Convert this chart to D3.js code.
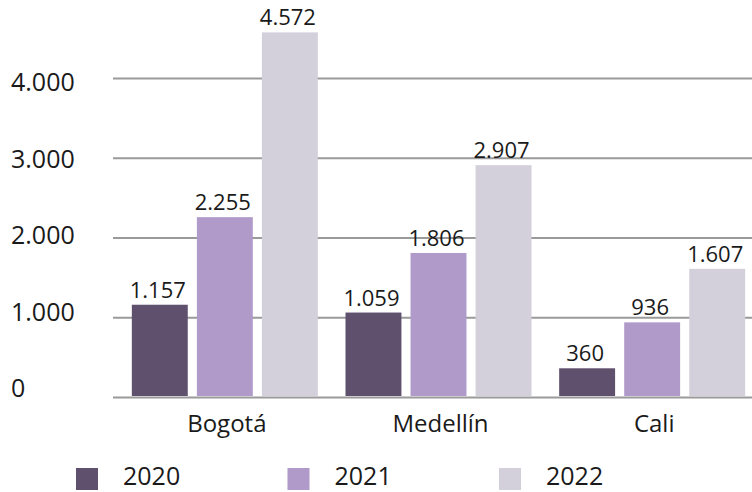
<!DOCTYPE html>
<html>
<head>
<meta charset="utf-8">
<script src="https://cdn.jsdelivr.net/npm/d3@7"></script>
<style>
  body { margin: 0; background: #fff; }
  text { font-family: "Open Sans", Lato, sans-serif; fill: #1a1a1a; }
</style>
</head>
<body>
<script>
// data
var cities = ["Bogotá", "Medellín", "Cali"]
var years = ["2020", "2021", "2022"]
var values2020 = [1157, 1059, 360]
var values2021 = [2255, 1806, 936]
var values2022 = [4572, 2907, 1607]
var yTicks = [0, 1000, 2000, 3000, 4000]
var colors = ["#5f506e", "#b09ac9", "#d3d0dc"]

var series = [values2020, values2021, values2022]

var width = 752, height = 492

var svg = d3.select("body")
    .append("svg")
    .attr("width", width)
    .attr("height", height)

var x0 = d3.scaleBand()
    .domain(cities)
    .range([118, 759])

var x1 = d3.scaleBand()
    .domain(years)
    .range([x0.bandwidth() / 2 - 93, x0.bandwidth() / 2 + 93])
    .paddingInner(0.14)

var y = d3.scaleLinear()
    .domain([0, 4000])
    .range([397, 78])

// tick labels sit on a slightly tighter spacing than the gridlines
var yLabel = d3.scaleLinear()
    .domain([0, 4000])
    .range([388, 82])

var fmt = function (v) {
    return d3.format(",")(v).replace(/,/g, ".")
}

// gridlines
svg.append("g")
    .selectAll("line")
    .data(yTicks)
    .enter()
    .append("line")
    .attr("x1", 113)
    .attr("x2", width)
    .attr("y1", function (d) { return y(d) + 0.5 })
    .attr("y2", function (d) { return y(d) + 0.5 })
    .attr("stroke", "#9a9a9a")
    .attr("stroke-width", 2)

svg.append("g")
    .selectAll("text")
    .data(yTicks)
    .enter()
    .append("text")
    .attr("x", 11)
    .attr("y", function (d) { return yLabel(d) })
    .attr("dy", "0.36em")
    .attr("font-size", 25)
    .text(fmt)

// bars
var groups = svg.append("g")
    .selectAll("g")
    .data(cities)
    .enter()
    .append("g")
    .attr("transform", function (c) { return "translate(" + x0(c) + ",0)" })

groups.selectAll("rect")
    .data(function (c, i) {
        return years.map(function (yr, j) {
            return { year: yr, value: series[j][i], color: colors[j] }
        })
    })
    .enter()
    .append("rect")
    .attr("x", function (d) { return x1(d.year) })
    .attr("width", x1.bandwidth())
    .attr("y", function (d) { return y(d.value) })
    .attr("height", function (d) { return y(0) - 1 - y(d.value) })
    .attr("fill", function (d) { return d.color })

groups.selectAll("text")
    .data(function (c, i) {
        return years.map(function (yr, j) {
            return { year: yr, value: series[j][i] }
        })
    })
    .enter()
    .append("text")
    .attr("x", function (d) { return x1(d.year) + x1.bandwidth() / 2 - 2 })
    .attr("y", function (d) { return y(d.value) - 7 })
    .attr("text-anchor", "middle")
    .attr("font-size", 22)
    .text(function (d) { return fmt(d.value) })

// category labels
svg.append("g")
    .selectAll("text")
    .data(cities)
    .enter()
    .append("text")
    .attr("x", function (c) { return x0(c) + x0.bandwidth() / 2 + 2 })
    .attr("y", 432)
    .attr("text-anchor", "middle")
    .attr("font-size", 24)
    .text(function (c) { return c })

// legend
var legend = svg.append("g")
    .selectAll("g")
    .data(years)
    .enter()
    .append("g")
    .attr("transform", function (d, i) { return "translate(" + (76 + i * 211.5) + ",468)" })

legend.append("rect")
    .attr("width", 22)
    .attr("height", 22)
    .attr("fill", function (d, i) { return colors[i] })

legend.append("text")
    .attr("x", 47)
    .attr("y", 17)
    .attr("font-size", 25)
    .text(function (d) { return d })
</script>
</body>
</html>
